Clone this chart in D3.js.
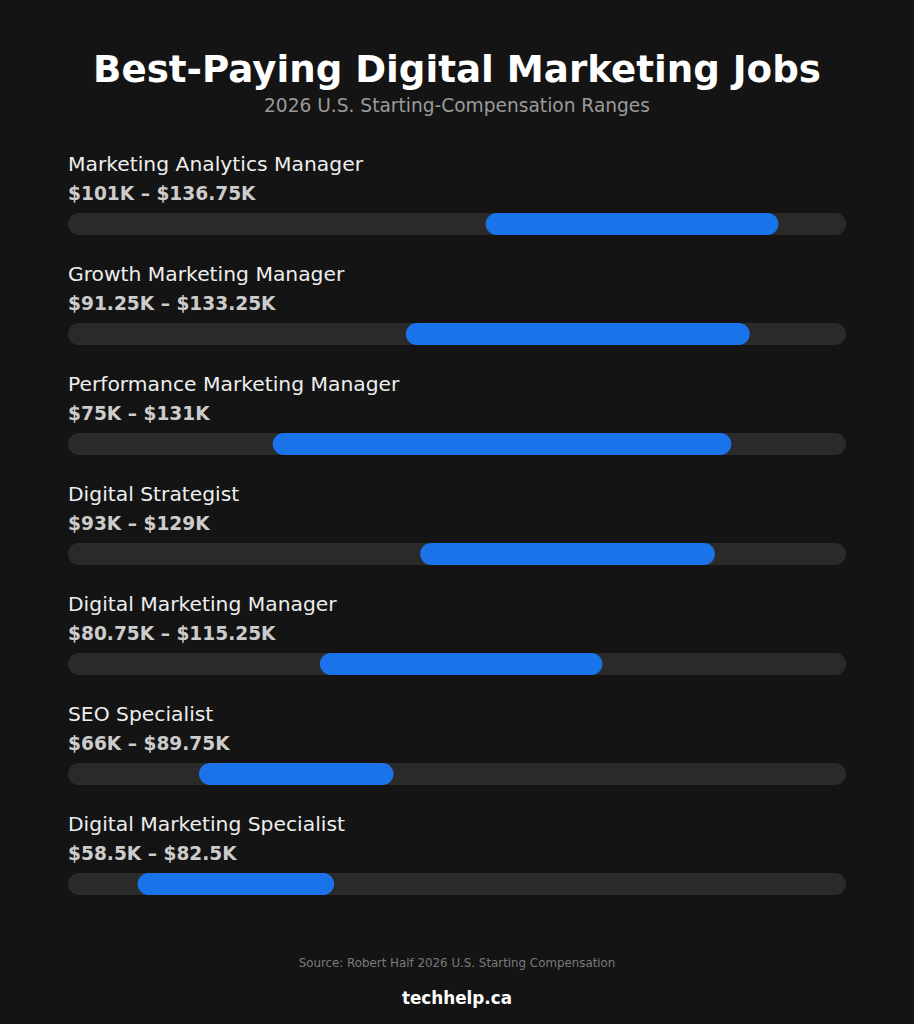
<!DOCTYPE html>
<html>
<head>
<meta charset="utf-8">
<script src="https://cdn.jsdelivr.net/npm/d3@7"></script>
<style>
  html, body { margin: 0; padding: 0; background: #141414; }
  svg { display: block; font-family: "DejaVu Sans", sans-serif; }
</style>
</head>
<body>
<svg id="chart"></svg>
<script>
const jobs = [
    'Marketing Analytics Manager',
    'Growth Marketing Manager',
    'Performance Marketing Manager',
    'Digital Strategist',
    'Digital Marketing Manager',
    'SEO Specialist',
    'Digital Marketing Specialist'
];
const lowValues = [101, 91.25, 75, 93, 80.75, 66, 58.5];
const highValues = [136.75, 133.25, 131, 129, 115.25, 89.75, 82.5];
const rangeLabels = [
    '$101K – $136.75K',
    '$91.25K – $133.25K',
    '$75K – $131K',
    '$93K – $129K',
    '$80.75K – $115.25K',
    '$66K – $89.75K',
    '$58.5K – $82.5K'
];

const data = jobs.map((job, i) => ({
    job, low: lowValues[i], high: highValues[i], label: rangeLabels[i]
}));

const width = 914;
const height = 1024;
const margin = { left: 68, right: 68 };
const rowTop = 142;
const rowStep = 110;
const barH = 22;

const svg = d3.select('#chart')
    .attr('width', width)
    .attr('height', height);

svg.append('rect')
    .attr('width', width)
    .attr('height', height)
    .attr('fill', '#141414');

const x = d3.scaleLinear()
    .domain([50, 145])
    .range([margin.left, width - margin.right]);

const y = d3.scaleBand()
    .domain(jobs)
    .range([rowTop, rowTop + rowStep * jobs.length]);

svg.append('text')
    .attr('x', width / 2)
    .attr('y', 82)
    .attr('text-anchor', 'middle')
    .attr('fill', '#ffffff')
    .style('font-size', '37.2px')
    .style('font-weight', 'bold')
    .text('Best-Paying Digital Marketing Jobs');

svg.append('text')
    .attr('x', width / 2)
    .attr('y', 112)
    .attr('text-anchor', 'middle')
    .attr('fill', '#9a9a9a')
    .style('font-size', '18.6px')
    .text('2026 U.S. Starting-Compensation Ranges');

const row = svg.selectAll('.row')
    .data(data)
    .enter().append('g')
    .attr('class', 'row')
    .attr('transform', d => `translate(0,${y(d.job)})`);

row.append('text')
    .attr('x', margin.left)
    .attr('y', 29)
    .attr('fill', '#eeeeee')
    .style('font-size', '20.3px')
    .text(d => d.job);

row.append('text')
    .attr('x', margin.left)
    .attr('y', 58)
    .attr('fill', '#cccccc')
    .style('font-size', '18.6px')
    .style('font-weight', 'bold')
    .text(d => d.label);

row.append('rect')
    .attr('x', x(50))
    .attr('y', 71)
    .attr('width', x(145) - x(50))
    .attr('height', barH)
    .attr('rx', barH / 2)
    .attr('fill', '#2a2a2a');

row.append('rect')
    .attr('x', d => x(d.low))
    .attr('y', 71)
    .attr('width', d => x(d.high) - x(d.low))
    .attr('height', barH)
    .attr('rx', barH / 2)
    .attr('fill', '#1a73e8');

svg.append('text')
    .attr('x', width / 2)
    .attr('y', 967)
    .attr('text-anchor', 'middle')
    .attr('fill', '#7a7a7a')
    .style('font-size', '11.85px')
    .text('Source: Robert Half 2026 U.S. Starting Compensation');

svg.append('text')
    .attr('x', width / 2)
    .attr('y', 1004)
    .attr('text-anchor', 'middle')
    .attr('fill', '#ffffff')
    .style('font-size', '16.8px')
    .style('font-weight', 'bold')
    .text('techhelp.ca');
</script>
</body>
</html>
